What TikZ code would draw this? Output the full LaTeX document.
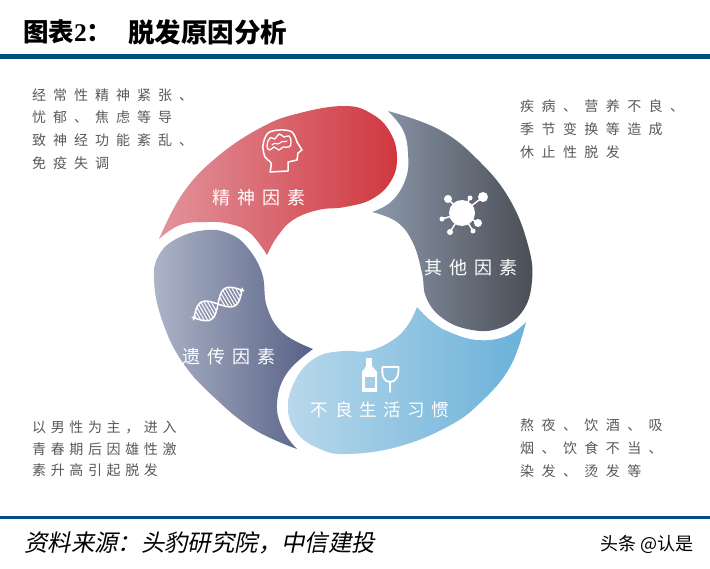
\documentclass[tikz,border=0pt]{standalone}
\usepackage{fontspec}
\setmainfont{Noto Sans CJK SC}
\newfontfamily\latinserif{Liberation Serif}
\newfontfamily\slantcjk[FakeSlant=0.2]{Noto Sans CJK SC}
\definecolor{rulec}{HTML}{004E82}
\definecolor{bodyc}{HTML}{5A5A5A}
\definecolor{redL}{RGB}{226,148,156}
\definecolor{redR}{RGB}{208,55,63}
\definecolor{greyL}{RGB}{140,152,170}
\definecolor{greyR}{RGB}{74,78,86}
\definecolor{blueL}{RGB}{184,216,235}
\definecolor{blueR}{RGB}{106,177,217}
\definecolor{slateL}{RGB}{172,180,199}
\definecolor{slateR}{RGB}{88,97,134}
\tikzset{
  x=1pt,y=-1pt,
  blob/.style={draw=none},
  rulebar/.style={fill=rulec,draw=none},
  desc/.style={anchor=west,inner sep=0pt,align=left,text=bodyc,font=\fontsize{14}{22.7}\selectfont\addfontfeature{LetterSpace=50}},
  descwide/.style={desc,font=\fontsize{14}{22.7}\selectfont\addfontfeature{LetterSpace=53}},
  descnarrow/.style={desc,font=\fontsize{14}{21.5}\selectfont\addfontfeature{LetterSpace=33}},
  lbl/.style={anchor=center,inner sep=0pt,text=white,font=\fontsize{18}{20}\selectfont\addfontfeature{LetterSpace=38}},
  icon/.style={draw=white,line width=1.5pt,line join=round,line cap=round},
  sm/.style={smooth,tension=0.7},
}
\begin{document}
\begin{tikzpicture}
\useasboundingbox (0,0) rectangle (710,569);
\fill[white] (0,0) rectangle (710,569);
% rules
\path[rulebar] (0,54) rectangle (710,59);
\path[rulebar] (0,516) rectangle (710,519);
% title
\node[anchor=west,inner sep=0pt] (titleA) at (23,32) {\fontsize{25.5}{28}\selectfont\bfseries 图表{\latinserif\bfseries 2}：};
\node[anchor=west,inner sep=0pt] (titleB) at (128,32) {\fontsize{26.5}{28}\selectfont\bfseries 脱发原因分析};
% red
\path[blob,left color=redL,right color=redR]
 plot[sm] coordinates {(159,239) (183,193) (217,157) (262,127) (300,113) (345,106) (372,114) (390,132) (397,157) (391,181) (372,199) (345,207) (318,210) (293,220) (277,237) (267,255)}
 -- plot[sm] coordinates {(267,255) (250,233) (230,224) (207,222) (180,225) (159,239)} -- cycle;
% dark grey
\path[blob,left color=greyL,right color=greyR]
 plot[sm] coordinates {(388,111) (440,130) (480,162) (510,200) (528,245) (532,281) (522,312) (497,329) (467,329) (441,317) (426,297) (422,273) (413,243) (397,222) (372,212)}
 -- plot[sm] coordinates {(372,212) (392,201) (406,178) (408,153) (403,130) (388,111)} -- cycle;
% light blue
\path[blob,left color=blueL,right color=blueR]
 plot[sm] coordinates {(526,322) (510,367) (480,403) (447,427) (397,447) (347,454) (320,449) (297,433) (288,407) (297,377) (317,357) (343,351) (368,351) (393,340) (408,325) (417,307)}
 -- plot[sm] coordinates {(417,307) (430,320) (447,331) (477,340) (507,336) (526,322)} -- cycle;
% slate
\path[blob,left color=slateL,right color=slateR]
 plot[sm] coordinates {(313,349) (283,333) (267,307) (262,273) (247,247) (230,234) (207,230) (178,238) (159,255) (154,280) (162,320) (183,363) (217,400) (255,430) (297,449)}
 -- plot[sm] coordinates {(297,449) (283,430) (277,403) (287,373) (313,349)} -- cycle;
% labels
\node[lbl] (lred) at (259,198) {精神因素};
\node[lbl] (lgrey) at (471,268) {其他因素};
\node[lbl] (lslate) at (229,357) {遗传因素};
\node[lbl,font=\fontsize{17.5}{20}\selectfont\addfontfeature{LetterSpace=38}] (lblue) at (380,410) {不良生活习惯};
% descriptions
\node[desc] (d1) at (32,129) {经常性精神紧张、\\忧郁、焦虑等导\\致神经功能紊乱、\\免疫失调};
\node[descwide] (d2) at (520,129) {疾病、营养不良、\\季节变换等造成\\休止性脱发};
\node[descnarrow] (d3) at (32,449) {以男性为主，进入\\青春期后因雄性激\\素升高引起脱发};
\node[descwide] (d4) at (520,448) {熬夜、饮酒、吸\\烟、饮食不当、\\染发、烫发等};
% footer
\node[anchor=west,inner sep=0pt] (src) at (24,543) {\fontsize{23.4}{26}\selectfont\slantcjk 资料来源：头豹研究院，中信建投};
\node[anchor=west,inner sep=0pt] (wm) at (600,544) {\fontsize{18}{20}\selectfont 头条 @认是};
% head icon
\draw[icon] plot[smooth,tension=0.55] coordinates {(270,172) (271,163) (265,157) (263,145) (268,133) (280,130) (292,132) (297,142)}
 -- (302,150) -- (298,153) -- (297,160) -- (288,162) -- (288,171) -- cycle;
\draw[icon,line width=1.3pt] plot[smooth cycle,tension=0.9] coordinates {(267,146) (270,138) (275,139) (279,134) (284,137) (289,136) (291,142) (289,147) (283,147) (279,150) (274,147) (270,150)};
\draw[icon,line width=1.1pt] (272,145) .. controls (275,141) and (277,146) .. (280,143) .. controls (282,140) and (285,143) .. (287,141);
% virus icon
\fill[white] (462,213) circle (13);
\foreach \px/\py/\r in {483/197/5,448/199/4,470/198/2.5,478/223/4,473/231/2.5,450/232/3,442/219/2.5}{
  \draw[white,line width=1.5pt] (462,213) -- (\px,\py);
  \fill[white] (\px,\py) circle (\r);
}
% DNA icon
\begin{scope}[shift={(218,304)},rotate=30]
  \draw[icon] plot[domain=-29:29,samples=50,smooth] (\x,{-10*sin(\x*6.5)});
  \draw[icon] plot[domain=-29:29,samples=50,smooth] (\x,{10*sin(\x*6.5)});
  \foreach \t in {-26,-23,-20,-17,-14,-11,-8,-5,5,8,11,14,17,20,23,26}{
    \draw[white,line width=1pt] (\t,{-10*sin(\t*6.5)}) -- (\t,{10*sin(\t*6.5)});
  }
\end{scope}
% bottle
\fill[white] (366,358) rectangle (372,367);
\fill[white] (366,366) -- (362,372) -- (362,392) -- (377,392) -- (377,372) -- (372,366) -- cycle;
\fill[blueL!75!blueR] (364.5,377) rectangle (374.5,388);
% glass
\draw[icon,line width=1.8pt] (382.5,367) -- (398.5,367) .. controls (399,376) and (396,382) .. (390,382) .. controls (384,382) and (381.5,376) .. (382.5,367) -- cycle;
\draw[icon,line width=1.8pt] (390,382) -- (390,392);
\end{tikzpicture}
\end{document}
